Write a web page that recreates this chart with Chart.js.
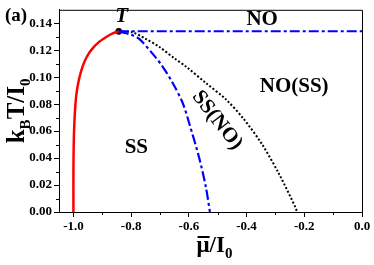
<!DOCTYPE html>
<html>
<head>
<meta charset="utf-8">
<script src="https://cdn.jsdelivr.net/npm/chart.js@4.4.1/dist/chart.umd.min.js"></script>
<style>
  html, body { margin: 0; padding: 0; background: #fff; }
  #wrap { width: 374px; height: 265px; }
</style>
</head>
<body>
<div id="wrap"><canvas id="chart" width="374" height="265"></canvas></div>
<script>
// axis ticks
const xTicks = [-1.0, -0.8, -0.6, -0.4, -0.2, 0.0];
const yTicks = [0.00, 0.02, 0.04, 0.06, 0.08, 0.10, 0.12, 0.14];
const xMinor = [-0.9, -0.7, -0.5, -0.3, -0.1];
const yMinor = [0.01, 0.03, 0.05, 0.07, 0.09, 0.11, 0.13];

// first order line (red), ends at T
const redMu = [-1.000, -1.000, -0.999, -0.997, -0.993, -0.988, -0.979, -0.968, -0.954, -0.935, -0.912, -0.885, -0.864, -0.843];
const redT  = [0.000, 0.030, 0.050, 0.065, 0.080, 0.090, 0.100, 0.108, 0.115, 0.121, 0.126, 0.130, 0.1325, 0.134];

// blue dash-dot curve from T down
const blueMu = [-0.843, -0.800, -0.772, -0.726, -0.691, -0.656, -0.622, -0.599, -0.564, -0.541, -0.527];
const blueT  = [0.134, 0.1315, 0.1284, 0.1175, 0.1079, 0.0957, 0.0812, 0.066, 0.040, 0.0184, 0.000];

// blue dash-dot horizontal line
const flatMu = [-0.843, 0.0];
const flatT  = [0.134, 0.134];

// black dotted curve
const dotMu = [-0.843, -0.795, -0.750, -0.702, -0.650, -0.610, -0.541, -0.472, -0.410, -0.345, -0.287, -0.229, -0.226];
const dotT  = [0.134, 0.1333, 0.1285, 0.1224, 0.114, 0.1079, 0.0957, 0.0836, 0.069, 0.0498, 0.028, 0.0027, 0.000];

// point T
const triMu = [-0.843];
const triT  = [0.134];

const pts = (xs, ys) => xs.map((x, i) => ({ x: x, y: ys[i] }));

const SERIF = "'Liberation Serif', 'Times New Roman', serif";
const dashDot = [10, 3, 3, 3];

// region labels, in data coordinates
const regionLabels = [
    { text: 'NO', mu: -0.346, t: 0.1425 },
    { text: 'NO(SS)', mu: -0.235, t: 0.0928 },
    { text: 'SS', mu: -0.782, t: 0.0479 },
    { text: 'SS(NO)', mu: -0.502, t: 0.068, rot: 52 }
];

// draw a run of [text, isSub] parts, returns x start of each part
function drawSub(ctx, parts, x, y, big, small) {
    const fontOf = p => 'bold ' + (p[1] ? small : big) + 'px ' + SERIF;
    let total = 0;
    parts.forEach(p => { ctx.font = fontOf(p); total += ctx.measureText(p[0]).width; });
    let cx = x - total / 2;
    const starts = [];
    parts.forEach(p => {
        ctx.font = fontOf(p);
        starts.push([cx, ctx.measureText(p[0]).width]);
        ctx.fillText(p[0], cx, p[1] ? y + small * 0.4 : y);
        cx += ctx.measureText(p[0]).width;
    });
    return starts;
}

const decor = {
    id: 'decor',
    afterDraw(chart) {
        const ctx = chart.ctx;
        const a = chart.chartArea;
        const xs = chart.scales.x, ys = chart.scales.y;
        ctx.save();
        // frame
        ctx.strokeStyle = '#000';
        ctx.lineWidth = 1;
        ctx.beginPath();
        ctx.moveTo(a.left, a.top + 0.5);
        ctx.lineTo(a.right + 0.5, a.top + 0.5);
        ctx.lineTo(a.right + 0.5, a.bottom);
        ctx.stroke();
        // minor ticks
        ctx.beginPath();
        xMinor.forEach(v => {
            const px = Math.round(xs.getPixelForValue(v)) + 0.5;
            ctx.moveTo(px, a.bottom);
            ctx.lineTo(px, a.bottom + 3);
        });
        yMinor.forEach(v => {
            const py = Math.round(ys.getPixelForValue(v)) + 0.5;
            ctx.moveTo(a.left, py);
            ctx.lineTo(a.left - 3, py);
        });
        ctx.stroke();

        ctx.fillStyle = '#000';
        ctx.textBaseline = 'middle';
        ctx.textAlign = 'center';
        regionLabels.forEach(l => {
            const px = xs.getPixelForValue(l.mu), py = ys.getPixelForValue(l.t);
            ctx.font = 'bold 21px ' + SERIF;
            ctx.save();
            ctx.translate(px, py);
            if (l.rot) ctx.rotate(l.rot * Math.PI / 180);
            ctx.fillText(l.text, 0, 0);
            ctx.restore();
        });
        // T label
        ctx.font = 'italic bold 21px ' + SERIF;
        ctx.fillText('T', xs.getPixelForValue(triMu[0]) + 3, ys.getPixelForValue(triT[0]) - 15);
        // panel label
        ctx.textAlign = 'left';
        ctx.font = 'bold 19px ' + SERIF;
        ctx.fillText('(a)', 5, 16);

        // x title with bar over mu
        ctx.textBaseline = 'alphabetic';
        const st = drawSub(ctx, [['\u03bc', false], ['/I', false], ['0', true]], (a.left + a.right) / 2 + 4, 252, 23, 15);
        ctx.fillRect(st[0][0] + 1, 236, st[0][1] - 1, 2);
        // y title
        ctx.save();
        ctx.translate(24, (a.top + a.bottom) / 2);
        ctx.rotate(-Math.PI / 2);
        drawSub(ctx, [['k', false], ['B', true], ['T/I', false], ['0', true]], 0, 0, 25, 15);
        ctx.restore();
        ctx.restore();
    }
};

new Chart(document.getElementById('chart'), {
    type: 'scatter',
    data: {
        datasets: [
            { data: pts(redMu, redT), showLine: true, borderColor: '#ff0000', borderWidth: 2.5, pointRadius: 0, tension: 0.3 },
            { data: pts(blueMu, blueT), showLine: true, borderColor: '#0000ff', borderWidth: 2.2, borderDash: dashDot, pointRadius: 0, tension: 0.3 },
            { data: pts(flatMu, flatT), showLine: true, borderColor: '#0000ff', borderWidth: 2, borderDash: dashDot, pointRadius: 0 },
            { data: pts(dotMu, dotT), showLine: true, borderColor: '#000', borderWidth: 2, borderDash: [2, 2], pointRadius: 0, tension: 0.3 },
            { data: pts(triMu, triT), pointRadius: 3, pointBackgroundColor: '#000', pointBorderColor: '#000' }
        ]
    },
    options: {
        responsive: false,
        animation: false,
        devicePixelRatio: 1,
        layout: { padding: { top: 5, right: 12, left: 0, bottom: 0 } },
        plugins: { legend: { display: false }, tooltip: { enabled: false } },
        scales: {
            x: {
                type: 'linear', min: -1.05, max: 0,
                afterFit: s => { s.height = 53; },
                afterBuildTicks: s => { s.ticks = xTicks.map(v => ({ value: v })); },
                grid: { drawOnChartArea: false, drawTicks: true, tickLength: 5, color: '#000' },
                border: { display: true, color: '#000', width: 1 },
                ticks: {
                    color: '#000', padding: 2, maxRotation: 0,
                    font: { family: SERIF, size: 13, weight: 'bold' },
                    callback: v => v.toFixed(1)
                }
            },
            y: {
                type: 'linear', min: 0, max: 0.15,
                afterFit: s => { s.width = 59; },
                afterBuildTicks: s => { s.ticks = yTicks.map(v => ({ value: v })); },
                grid: { drawOnChartArea: false, drawTicks: true, tickLength: 5, color: '#000' },
                border: { display: true, color: '#000', width: 1 },
                ticks: {
                    color: '#000', padding: 2,
                    font: { family: SERIF, size: 13, weight: 'bold' },
                    callback: v => v.toFixed(2)
                }
            }
        }
    },
    plugins: [decor]
});
</script>
</body>
</html>
